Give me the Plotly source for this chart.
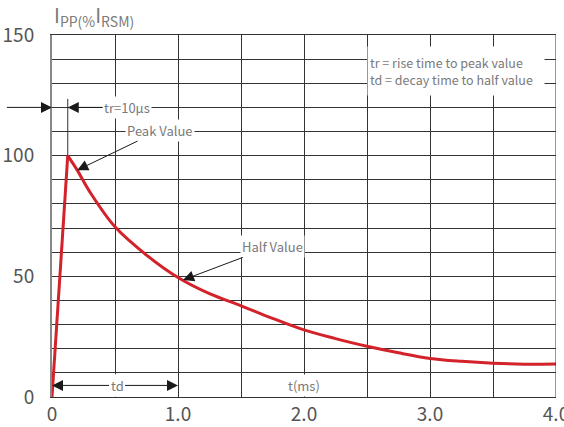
import plotly.graph_objects as go

# ---- data ----
rise_t = [0, 0.06, 0.125]
rise_i = [0, 48, 100]
decay_t = [0.125, 0.2, 0.3, 0.5, 0.75, 1.0, 1.25, 1.5, 1.75, 2.0, 2.25, 2.5, 2.75, 3.0, 3.25, 3.5, 3.75, 4.0]
decay_i = [100, 94, 85, 70.5, 58.8, 49.5, 42.8, 37.8, 32.6, 27.8, 24.2, 21.0, 18.3, 16.0, 14.8, 14.0, 13.6, 13.7]
tr_marker_t = [0.125, 0.125]
tr_marker_i = [100, 123.5]
x_tickvals = [0, 1, 2, 3, 4]
x_ticktext = ["0", "1.0", "2.0", "3.0", "4.0"]
y_tickvals = [0, 50, 100, 150]
y_ticktext = ["0", "50", "100", "150"]

FONT = "Noto Sans CJK SC"
RED = "#d3222a"
GRID = "#333333"
TXT = "#7a7a7a"

fig = go.Figure()
fig.add_trace(go.Scatter(x=tr_marker_t, y=tr_marker_i, mode="lines",
                         line=dict(color=GRID, width=1), hoverinfo="skip", showlegend=False))
fig.add_trace(go.Scatter(x=rise_t, y=rise_i, mode="lines",
                         line=dict(color=RED, width=3), showlegend=False))
fig.add_trace(go.Scatter(x=decay_t, y=decay_i, mode="lines", line_shape="spline",
                         line=dict(color=RED, width=3), showlegend=False))

ann_font = dict(family=FONT, size=13, color=TXT)
arrow = dict(showarrow=True, arrowhead=2, arrowsize=2.2, arrowwidth=1, arrowcolor="#1a1a1a",
             axref="x", ayref="y", standoff=0, startstandoff=0)

annotations = [
    dict(xref="paper", yref="paper", x=0, y=1, xanchor="left", yanchor="bottom", yshift=2,
         text="I<sub>PP(%</sub>I<sub>RSM)</sub>", showarrow=False,
         font=dict(family=FONT, size=20, color=TXT)),
    dict(x=0, y=120, ax=-0.37, ay=120, text="", **arrow),
    dict(x=0.125, y=120, ax=0.595, ay=120, text="tr=10µs", bgcolor="white", font=ann_font, **arrow),
    dict(x=0.2, y=94, ax=0.86, ay=110.6, text="Peak Value", bgcolor="white", font=ann_font, **arrow),
    dict(x=1.04, y=48.5, ax=1.746, ay=62.4, text="Half Value", bgcolor="white", font=ann_font, **arrow),
    dict(x=0, y=4.8, ax=0.516, ay=4.8, text="td", bgcolor="white", font=ann_font, **arrow),
    dict(x=1.0, y=4.8, ax=0.516, ay=4.8, text="td", bgcolor="white", font=ann_font, **arrow),
    dict(x=2.0, y=4.8, text="t(ms)", showarrow=False, bgcolor="white", font=ann_font),
    dict(x=3.206, y=135.1, text="tr = rise time to peak value<br>td = decay time to half value",
         showarrow=False, bgcolor="white", align="left", width=172, height=44, borderpad=2,
         font=dict(family=FONT, size=12.5, color=TXT)),
]

fig.update_layout(
    width=564, height=427,
    margin=dict(l=52, r=8, t=35, b=30),
    paper_bgcolor="white", plot_bgcolor="white",
    annotations=annotations,
    shapes=[dict(type="line", xref="x", yref="paper", x0=4, x1=4, y0=0, y1=1,
                 line=dict(color=GRID, width=1))],
    xaxis=dict(range=[0, 4], tickvals=x_tickvals, ticktext=x_ticktext,
               showgrid=True, gridcolor=GRID, gridwidth=1,
               minor=dict(dtick=0.5, showgrid=True, gridcolor=GRID, gridwidth=1),
               showline=True, linecolor=GRID, linewidth=1, mirror=True,
               zeroline=False, ticks="", automargin=False, ticklabeloverflow="allow",
               tickfont=dict(family=FONT, size=19, color="#555555")),
    yaxis=dict(range=[0, 150], tickvals=y_tickvals, ticktext=y_ticktext,
               showgrid=True, gridcolor=GRID, gridwidth=1,
               minor=dict(dtick=10, showgrid=True, gridcolor=GRID, gridwidth=1),
               showline=True, linecolor="#888888", linewidth=2,
               zeroline=False, ticks="", ticklabelstandoff=12, automargin=False,
               tickfont=dict(family=FONT, size=19, color="#555555")),
)

fig.write_html("out.html", config={"displayModeBar": False},
               post_script="document.body.style.margin='0';document.body.style.overflow='hidden';")
